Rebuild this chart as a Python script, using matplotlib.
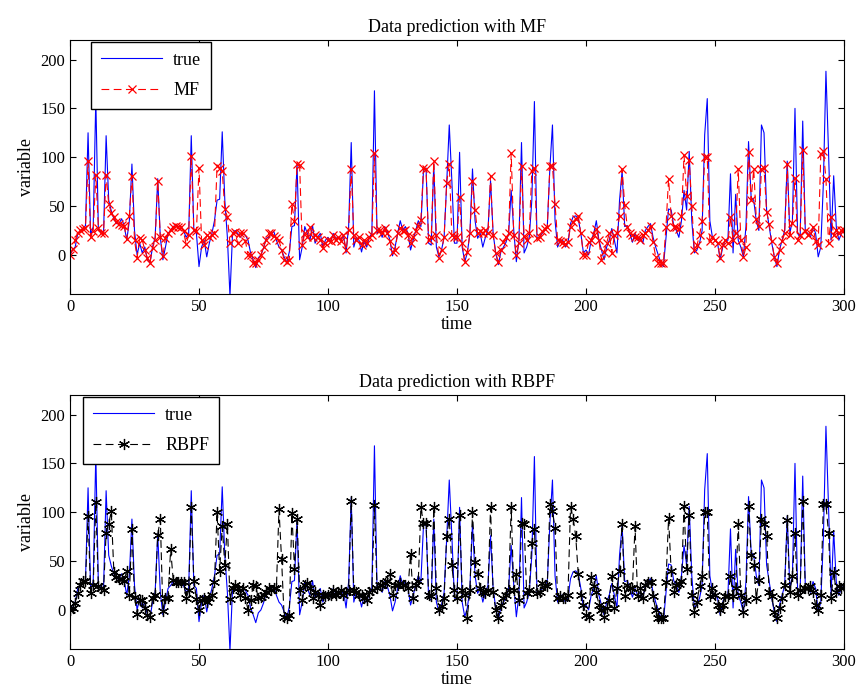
import numpy as np
import matplotlib
matplotlib.use("Agg")
import matplotlib.pyplot as plt

plt.rcParams['font.family'] = ['Liberation Serif', 'DejaVu Serif']

# time index 0..300
time = np.arange(301)

true_vals = [
    0, 5, 8, 22, 24, 27, 30, 125, 20, 29,
    160, 25, 24, 22, 122, 56, 45, 37, 32, 32,
    37, 30, 15, 35, 93, 25, 0, 12, 2, 8,
    -5, -8, 8, 18, 78, 18, -5, 8, 22, 25,
    29, 30, 29, 29, 25, 18, 22, 122, 25, 22,
    -12, 8, 15, -2, 12, 22, 35, 56, 57, 126,
    56, 18, -42, 22, 25, 22, 18, 22, 20, 15,
    2, -5, -13, -3, 0, 7, 17, 18, 22, 24,
    15, 8, 5, -2, -8, 3, 29, 30, 93, -5,
    8, 29, 22, 15, 30, 12, 18, 22, 8, 15,
    18, 13, 22, 17, 18, 15, 20, 2, 29, 115,
    8, 18, 15, 3, 15, 8, 18, 22, 168, 22,
    25, 18, 29, 24, 15, -1, 8, 22, 35, 25,
    29, 22, 5, 15, 25, 35, 29, 86, 89, 12,
    10, 93, 8, -2, 5, 18, 73, 133, 76, 12,
    12, 105, 8, -7, 2, 22, 88, 35, 17, 22,
    8, 18, 25, 76, 22, 2, -10, 3, 8, 13,
    22, 66, 25, -7, 15, 115, 2, 8, 18, 56,
    157, 17, 18, 22, 25, 29, 89, 133, 35, 8,
    15, 15, 8, 12, 32, 39, 40, 37, 22, 2,
    5, 0, 15, 22, 35, 15, 5, -5, 8, 15,
    27, 15, 2, 56, 86, 29, 30, 22, 13, 22,
    15, 18, 12, 25, 29, 32, 18, 8, 0, -8,
    -12, 18, 47, 46, 30, 25, 18, 35, 66, 46,
    106, 35, 2, 5, 12, 25, 123, 160, 35, 18,
    15, 12, -5, 8, 15, 15, 83, 2, 62, 15,
    8, -2, 29, 116, 59, 56, 35, 25, 133, 125,
    46, 29, 12, -2, -12, 5, 15, 25, 96, 22,
    35, 150, 22, 18, 137, 24, 22, 18, 29, 22,
    -2, 8, 73, 188, 106, 15, 81, 29, 15, 22,
    25,
]

mf_vals = [
    0, 6, 15, 22, 25, 27, 28, 96, 18, 24,
    82, 28, 22, 22, 82, 52, 43, 39, 34, 32,
    31, 30, 16, 40, 81, 15, -3, 17, 15, 5,
    -3, -8, 7, 15, 76, 18, -1, 17, 22, 25,
    29, 30, 29, 29, 24, 11, 20, 101, 25, 24,
    89, 15, 10, 20, 18, 20, 22, 91, 89, 86,
    47, 39, 12, 22, 23, 12, 22, 22, 14, 0,
    0, -8, -8, -5, 0, 8, 15, 22, 22, 19,
    17, 15, 5, -5, -7, -5, 52, 35, 93, 92,
    10, 22, 18, 29, 18, 20, 18, 15, 7, 12,
    15, 14, 20, 15, 18, 14, 20, 5, 25, 88,
    20, 15, 18, 10, 15, 12, 18, 20, 104, 25,
    25, 22, 28, 22, 14, 3, 5, 22, 28, 24,
    25, 20, 12, 18, 24, 30, 36, 89, 88, 15,
    18, 96, 20, -3, 5, 18, 74, 93, 20, 18,
    18, 59, 12, -7, 3, 22, 76, 46, 22, 24,
    22, 25, 22, 81, 20, 2, -7, 5, 13, 18,
    22, 104, 20, 0, 12, 91, 19, 15, 22, 86,
    89, 17, 18, 24, 27, 29, 91, 91, 52, 15,
    14, 13, 11, 13, 29, 34, 37, 40, 22, 0,
    0, 13, 15, 20, 27, 15, -5, 3, 12, 22,
    2, 20, 22, 40, 88, 51, 29, 22, 20, 18,
    18, 15, 20, 22, 25, 30, 13, -2, -8, -8,
    -8, 29, 78, 40, 29, 29, 27, 40, 102, 60,
    97, 50, 5, 10, 20, 35, 100, 100, 14, 18,
    15, 12, -3, 10, 15, 12, 39, 15, 22, 88,
    15, -2, 8, 105, 56, 88, 37, 30, 88, 89,
    44, 32, 14, -2, -8, 5, 14, 22, 93, 20,
    33, 79, 15, 20, 107, 24, 20, 22, 29, 14,
    10, 103, 106, 78, 12, 39, 20, 25, 22, 25,
    25,
]

rbpf_vals = [
    0, 2, 7, 17, 25, 30, 30, 96, 17, 25,
    110, 24, 22, 20, 79, 88, 101, 39, 34, 32,
    32, 30, 40, 15, 83, 13, -4, 10, 10, 2,
    -5, -7, 12, 15, 77, 93, -1, 12, 12, 62,
    31, 29, 29, 29, 29, 12, 20, 105, 30, 11,
    0, 10, 12, 8, 12, 15, 29, 100, 40, 86,
    46, 88, 11, 22, 25, 22, 15, 22, 12, 0,
    10, 25, 24, 12, 13, 15, 18, 22, 20, 22,
    22, 103, 52, -7, -8, -5, 99, 42, 93, 20,
    10, 25, 28, 22, 12, 18, 15, 5, 15, 14,
    15, 15, 20, 15, 18, 20, 15, 18, 20, 111,
    20, 18, 15, 15, 12, 10, 18, 20, 107, 22,
    25, 25, 28, 30, 37, 15, 25, 25, 28, 25,
    25, 22, 57, 12, 25, 30, 105, 89, 89, 15,
    14, 105, 22, 0, 4, 12, 76, 93, 46, 20,
    12, 97, 20, 15, -8, 20, 100, 49, 37, 22,
    18, 17, 20, 105, 18, 0, -8, 5, 12, 15,
    20, 105, 20, 37, 10, 89, 88, 17, 20, 69,
    83, 17, 18, 28, 25, 24, 108, 101, 84, 12,
    14, 12, 12, 15, 105, 93, 76, 37, 15, 5,
    -5, -7, 34, 24, 18, 5, 0, -7, 2, 10,
    35, 2, 22, 40, 88, 14, 25, 22, 22, 86,
    14, 22, 12, 25, 29, 29, 14, 0, -8, -8,
    -8, 29, 94, 40, 18, 25, 27, 30, 106, 42,
    97, 15, -2, 8, 24, 35, 100, 100, 14, 22,
    15, 5, 0, 5, 14, 14, 35, 14, 22, 88,
    15, -2, 10, 106, 56, 46, 12, 31, 93, 88,
    76, 18, 14, -2, -8, 2, 12, 25, 92, 18,
    35, 79, 15, 20, 111, 22, 22, 24, 18, 5,
    0, 15, 108, 108, 79, 12, 39, 18, 24, 22,
    24,
]

fig = plt.figure(figsize=(8.6, 6.93), dpi=100)
ax1 = fig.add_axes([0.0814, 0.5758, 0.9, 0.3665])
ax2 = fig.add_axes([0.0814, 0.0635, 0.9, 0.3665])


def setup(ax, title):
    ax.set_xlim(0, 300)
    ax.set_ylim(-40, 220)
    ax.set_xticks(range(0, 301, 50))
    ax.set_yticks(range(0, 201, 50))
    ax.tick_params(direction='in', top=True, right=True, labelsize=12, length=4)
    ax.set_xlabel("time", fontsize=13, labelpad=1)
    ax.set_ylabel("variable", fontsize=13, labelpad=4)
    ax.set_title(title, fontsize=13, pad=6)


def add_legend(ax, x0):
    leg = ax.legend(loc='upper left', bbox_to_anchor=(x0, 0.993), fontsize=13,
                    fancybox=False, edgecolor='black', framealpha=1,
                    handlelength=3.4, borderaxespad=0, labelspacing=0.75,
                    borderpad=0.55, handletextpad=0.6)
    leg.get_frame().set_linewidth(1.0)


# top panel
ax1.plot(time, true_vals, color='blue', lw=0.8, label='true')
ax1.plot(time, mf_vals, color='red', lw=0.8, ls=(0, (7, 4)), marker='x',
         ms=6, mew=0.9, label='MF')
setup(ax1, "Data prediction with MF")
add_legend(ax1, 0.027)

# bottom panel
ax2.plot(time, true_vals, color='blue', lw=0.8, label='true')
ax2.plot(time, rbpf_vals, color='black', lw=0.8, ls=(0, (7, 4)), marker=(6, 2, 0),
         ms=8, mew=0.9, label='RBPF')
setup(ax2, "Data prediction with RBPF")
add_legend(ax2, 0.017)

fig.savefig("out.png", dpi=100)
